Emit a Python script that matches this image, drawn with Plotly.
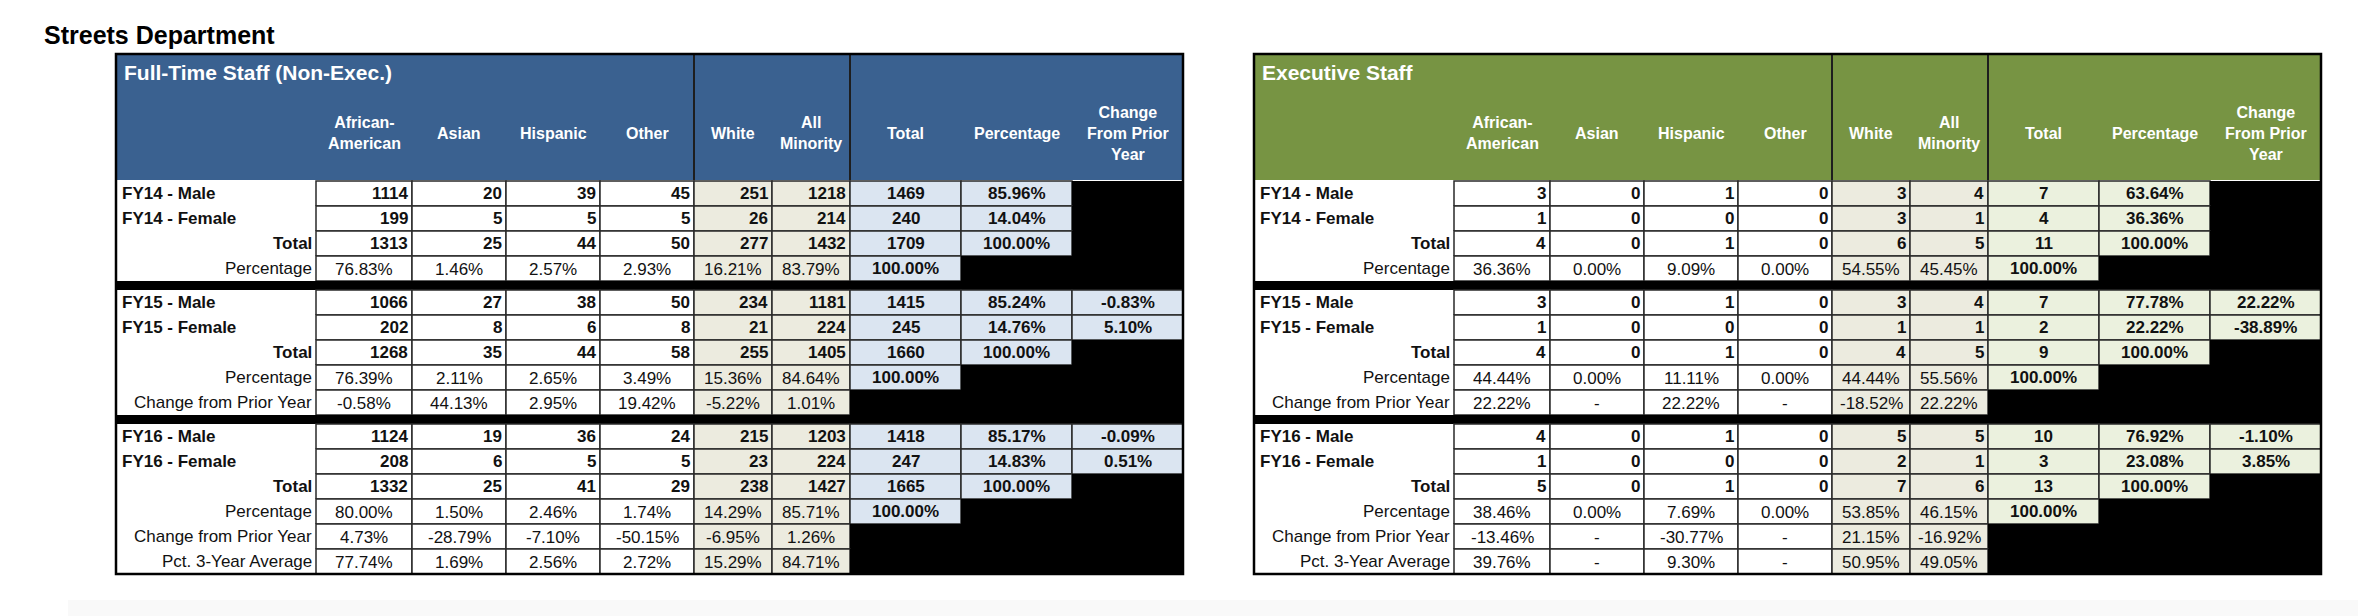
import plotly.graph_objects as go

# column headings shared by both tables
col_heads = ["African-<br>American", "Asian", "Hispanic", "Other", "White", "All<br>Minority",
             "Total", "Percentage", "Change<br>From Prior<br>Year"]

# Full-Time Staff (Non-Exec.)
ft_fy14 = [["FY14 - Male", "1114", "20", "39", "45", "251", "1218", "1469", "85.96%", ""],
           ["FY14 - Female", "199", "5", "5", "5", "26", "214", "240", "14.04%", ""],
           ["Total", "1313", "25", "44", "50", "277", "1432", "1709", "100.00%", ""],
           ["Percentage", "76.83%", "1.46%", "2.57%", "2.93%", "16.21%", "83.79%", "100.00%", "", ""]]
ft_fy15 = [["FY15 - Male", "1066", "27", "38", "50", "234", "1181", "1415", "85.24%", "-0.83%"],
           ["FY15 - Female", "202", "8", "6", "8", "21", "224", "245", "14.76%", "5.10%"],
           ["Total", "1268", "35", "44", "58", "255", "1405", "1660", "100.00%", ""],
           ["Percentage", "76.39%", "2.11%", "2.65%", "3.49%", "15.36%", "84.64%", "100.00%", "", ""],
           ["Change from Prior Year", "-0.58%", "44.13%", "2.95%", "19.42%", "-5.22%", "1.01%", "", "", ""]]
ft_fy16 = [["FY16 - Male", "1124", "19", "36", "24", "215", "1203", "1418", "85.17%", "-0.09%"],
           ["FY16 - Female", "208", "6", "5", "5", "23", "224", "247", "14.83%", "0.51%"],
           ["Total", "1332", "25", "41", "29", "238", "1427", "1665", "100.00%", ""],
           ["Percentage", "80.00%", "1.50%", "2.46%", "1.74%", "14.29%", "85.71%", "100.00%", "", ""],
           ["Change from Prior Year", "4.73%", "-28.79%", "-7.10%", "-50.15%", "-6.95%", "1.26%", "", "", ""],
           ["Pct. 3-Year Average", "77.74%", "1.69%", "2.56%", "2.72%", "15.29%", "84.71%", "", "", ""]]

# Executive Staff
ex_fy14 = [["FY14 - Male", "3", "0", "1", "0", "3", "4", "7", "63.64%", ""],
           ["FY14 - Female", "1", "0", "0", "0", "3", "1", "4", "36.36%", ""],
           ["Total", "4", "0", "1", "0", "6", "5", "11", "100.00%", ""],
           ["Percentage", "36.36%", "0.00%", "9.09%", "0.00%", "54.55%", "45.45%", "100.00%", "", ""]]
ex_fy15 = [["FY15 - Male", "3", "0", "1", "0", "3", "4", "7", "77.78%", "22.22%"],
           ["FY15 - Female", "1", "0", "0", "0", "1", "1", "2", "22.22%", "-38.89%"],
           ["Total", "4", "0", "1", "0", "4", "5", "9", "100.00%", ""],
           ["Percentage", "44.44%", "0.00%", "11.11%", "0.00%", "44.44%", "55.56%", "100.00%", "", ""],
           ["Change from Prior Year", "22.22%", "-", "22.22%", "-", "-18.52%", "22.22%", "", "", ""]]
ex_fy16 = [["FY16 - Male", "4", "0", "1", "0", "5", "5", "10", "76.92%", "-1.10%"],
           ["FY16 - Female", "1", "0", "0", "0", "2", "1", "3", "23.08%", "3.85%"],
           ["Total", "5", "0", "1", "0", "7", "6", "13", "100.00%", ""],
           ["Percentage", "38.46%", "0.00%", "7.69%", "0.00%", "53.85%", "46.15%", "100.00%", "", ""],
           ["Change from Prior Year", "-13.46%", "-", "-30.77%", "-", "21.15%", "-16.92%", "", "", ""],
           ["Pct. 3-Year Average", "39.76%", "-", "9.30%", "-", "50.95%", "49.05%", "", "", ""]]

FONT = "Liberation Sans Narrow, Liberation Sans, Arial"
edges = [0, 200, 296, 390, 484, 578, 656, 734, 845, 956, 1067]
top, head_bot, rh, sep = 46, 172, 25, 9

fig = go.Figure()
shapes = []
notes = []


def rect(x0, y0, x1, y1, fill, line=None, w=1.5):
    shapes.append(dict(type="rect", xref="x", yref="y", x0=x0, y0=y0, x1=x1, y1=y1,
                       fillcolor=fill, line=dict(color=line or fill, width=w if line else 0), layer="below"))


def text(x, y, s, anchor="center", bold=False, size=16, color="#111"):
    notes.append(dict(x=x, y=y, xref="x", yref="y", text="<b>%s</b>" % s if bold else s,
                      showarrow=False, xanchor=anchor, yanchor="middle",
                      font=dict(family=FONT, size=size, color=color)))


def draw_table(x0, head_col, title, blocks, tot_fill):
    X = [x0 + e for e in edges]
    rect(X[0], top, X[-1], head_bot, head_col)
    for k in (5, 7):
        shapes.append(dict(type="line", xref="x", yref="y", x0=X[k], x1=X[k], y0=top, y1=head_bot,
                           line=dict(color="#1e1e1e", width=2)))
    text(X[0] + 6, 64, title, "left", True, 21, "white")
    for i, h in enumerate(col_heads):
        text((X[i + 1] + X[i + 2]) / 2, 125, h, "center", True, 16, "white")
    y = head_bot + 1
    for bi, block in enumerate(blocks):
        for row in block:
            y0, y1 = y, y + rh
            kind = row[0]
            strong = kind.startswith("FY") or kind == "Total"
            rect(X[0], y0, X[1], y1, "white")
            if kind.startswith("FY"):
                text(X[0] + 4, (y0 + y1) / 2, kind, "left", True, 17)
            else:
                text(X[1] - 2, (y0 + y1) / 2, kind, "right", strong, 17)
            for c in range(1, 10):
                v = row[c]
                a, b = X[c], X[c + 1]
                if c <= 6:
                    rect(a, y0, b, y1, "white" if c <= 4 else "#ecebdf", "#2a2a2a", 1.5)
                    if v.endswith("%") or v == "-":
                        text((a + b) / 2, (y0 + y1) / 2 + 1, v, "center", False, 17)
                    else:
                        text(b - 2, (y0 + y1) / 2, v, "right", True, 17)
                elif v:
                    rect(a, y0, b, y1, tot_fill, "#2a2a2a", 1.5)
                    text((a + b) / 2, (y0 + y1) / 2, v, "center", True, 17)
                else:
                    rect(a, y0, b, y1, "black")
            y = y1
        if bi < len(blocks) - 1:
            rect(X[0], y, X[-1], y + sep, "black")
            y += sep
    shapes.append(dict(type="rect", xref="x", yref="y", x0=X[0], y0=top, x1=X[-1], y1=y,
                       line=dict(color="black", width=2.5)))


rect(60, 592, 2366, 616, "#f9f9f9")
draw_table(108, "#3a6190", "Full-Time Staff (Non-Exec.)", [ft_fy14, ft_fy15, ft_fy16], "#dbe5f1")
draw_table(1246, "#779443", "Executive Staff", [ex_fy14, ex_fy15, ex_fy16], "#ebf1de")
notes.append(dict(x=34, y=27, xref="x", yref="y", text="<b>Streets Department</b>", showarrow=False,
                  xanchor="left", yanchor="middle", font=dict(family="Liberation Sans, Arial", size=25, color="black")))

fig.update_layout(width=2366, height=616, margin=dict(l=0, r=0, t=0, b=0),
                  paper_bgcolor="white", plot_bgcolor="white", shapes=shapes, annotations=notes,
                  xaxis=dict(range=[0, 2366], visible=False, fixedrange=True),
                  yaxis=dict(range=[616, 0], visible=False, fixedrange=True), showlegend=False)
fig.write_html("out.html")
